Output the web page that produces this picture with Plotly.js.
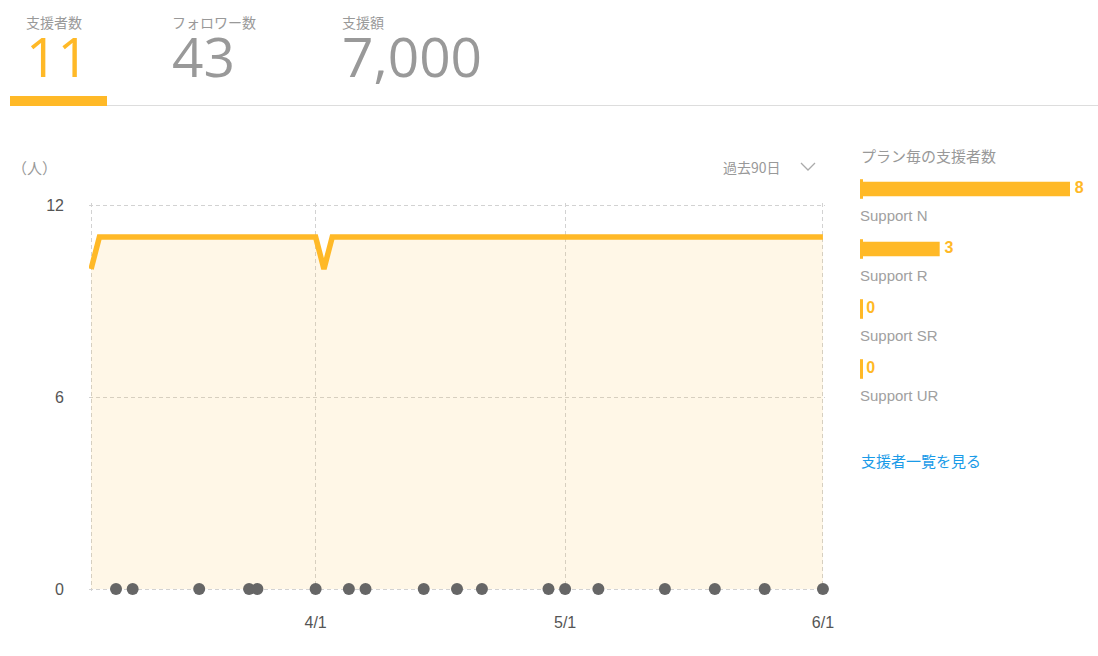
<!DOCTYPE html>
<html>
<head>
<meta charset="utf-8">
<script src="https://cdn.plot.ly/plotly-3.0.1.min.js"></script>
<style>html,body{margin:0;padding:0;background:#fff;}#chart{width:1098px;height:656px;}</style>
</head>
<body>
<div id="chart"></div>
<script>
// ---- data ----
const kpiLabels = ['支援者数', 'フォロワー数', '支援額'];
const kpiValues = ['11', '43', '7,000'];

const lineDates = ['2024-03-05', '2024-03-06', '2024-04-01', '2024-04-02', '2024-04-03', '2024-06-01'];
const lineValues = [10, 11, 11, 10, 11, 11];

const supportDates = ['2024-03-08', '2024-03-10', '2024-03-18', '2024-03-24', '2024-03-25', '2024-04-01',
  '2024-04-05', '2024-04-07', '2024-04-14', '2024-04-18', '2024-04-21', '2024-04-29', '2024-05-01',
  '2024-05-05', '2024-05-13', '2024-05-19', '2024-05-25', '2024-06-01'];
const supportLevels = supportDates.map(() => 0);

const xRange = ['2024-03-04 18:00', '2024-06-01 06:00'];
const xTickVals = ['2024-03-05', '2024-04-01', '2024-05-01', '2024-06-01'];
const xTickText = ['', '4/1', '5/1', '6/1'];
const yRange = [-0.0625, 12.0625];
const yTickVals = [0, 6, 12];

const planNames = ['Support N', 'Support R', 'Support SR', 'Support UR'];
const planCounts = [8, 3, 0, 0];

// ---- styles ----
const W = 1098, H = 656;
const ORANGE = '#FFB927';
const GRAY = '#999999';
const JP = '"Noto Sans CJK JP", sans-serif';
const AR = '"Liberation Sans", Arial, sans-serif';
const px = v => v / W;
const py = v => 1 - v / H;

const traces = [
  {
    x: lineDates, y: lineValues, type: 'scatter', mode: 'lines',
    line: {color: ORANGE, width: 5.5, shape: 'linear'},
    fill: 'tozeroy', fillcolor: 'rgba(251,185,40,0.11)',
    xaxis: 'x', yaxis: 'y', hoverinfo: 'skip'
  },
  {
    x: supportDates, y: supportLevels, type: 'scatter', mode: 'markers',
    marker: {color: '#666666', size: 12},
    cliponaxis: false, xaxis: 'x', yaxis: 'y', hoverinfo: 'skip'
  },
  {
    x: planCounts, y: planNames, type: 'bar', orientation: 'h',
    marker: {color: ORANGE}, width: 0.24,
    xaxis: 'x2', yaxis: 'y2', hoverinfo: 'skip'
  },
  {
    x: planCounts.map(() => 0), y: planNames, type: 'scatter', mode: 'markers',
    marker: {symbol: 'line-ns', size: 14, color: ORANGE, line: {color: ORANGE, width: 3}},
    cliponaxis: false, xaxis: 'x2', yaxis: 'y2', hoverinfo: 'skip'
  },
  {
    x: planCounts, y: planNames, type: 'scatter', mode: 'markers+text',
    marker: {size: 6, opacity: 0, color: ORANGE},
    text: planCounts.map(String), textposition: 'middle right',
    textfont: {family: AR, size: 16, color: ORANGE, weight: 'bold'},
    cliponaxis: false, xaxis: 'x2', yaxis: 'y2', hoverinfo: 'skip'
  }
];

const annotations = [];
const kpiX = [24, 170, 340];
kpiLabels.forEach((t, i) => {
  const numColor = i === 0 ? ORANGE : '#999999';
  annotations.push({
    xref: 'paper', yref: 'paper', x: px(kpiX[i]), y: py(10), xanchor: 'left', yanchor: 'top', align: 'left',
    showarrow: false,
    text: `<span style="font-size:14px;color:${GRAY}">${t}</span><br>` +
          `<span style="font-size:55px;font-family:'Open Sans',sans-serif;color:${numColor}">${kpiValues[i]}</span>`,
    font: {family: JP, size: 38, color: GRAY}
  });
});
annotations.push({xref: 'paper', yref: 'paper', x: px(10), y: py(167), text: '（人）', showarrow: false,
  xanchor: 'left', yanchor: 'middle', font: {family: JP, size: 15, color: GRAY}});
annotations.push({xref: 'paper', yref: 'paper', x: px(783), y: py(167), text: '過去90日', showarrow: false,
  xanchor: 'right', yanchor: 'middle', font: {family: JP, size: 14, color: GRAY}});
annotations.push({xref: 'paper', yref: 'paper', x: px(859), y: py(155), text: 'プラン毎の支援者数', showarrow: false,
  xanchor: 'left', yanchor: 'middle', font: {family: JP, size: 15, color: GRAY}});
planNames.forEach(n => {
  annotations.push({xref: 'paper', yref: 'y2', x: px(858), y: n, yshift: -26, text: n, showarrow: false,
    xanchor: 'left', yanchor: 'middle', font: {family: AR, size: 15, color: '#A0A0A0'}});
});
annotations.push({xref: 'paper', yref: 'paper', x: px(859), y: py(460), text: '支援者一覧を見る', showarrow: false,
  xanchor: 'left', yanchor: 'middle', font: {family: JP, size: 15, color: '#1A9BE8'}});

const shapes = [
  {type: 'line', xref: 'paper', yref: 'paper', x0: px(10), x1: 1, y0: py(105.5), y1: py(105.5),
    line: {color: '#DDDDDD', width: 1}},
  {type: 'rect', xref: 'paper', yref: 'paper', x0: px(10), x1: px(107), y0: py(106), y1: py(96),
    fillcolor: ORANGE, line: {width: 0}},
  {type: 'path', xref: 'paper', yref: 'paper',
    path: `M ${px(801)} ${py(163)} L ${px(808)} ${py(170)} L ${px(815)} ${py(163)}`,
    line: {color: '#AAAAAA', width: 1.3}}
];

const gridStyle = {showgrid: true, gridcolor: '#D2D2D2', gridwidth: 1, griddash: '4px,3px', zeroline: false, showline: false};

const layout = {
  width: W, height: H,
  margin: {l: 0, r: 0, t: 0, b: 0},
  paper_bgcolor: '#ffffff', plot_bgcolor: 'rgba(0,0,0,0)',
  showlegend: false, hovermode: false,
  xaxis: Object.assign({}, gridStyle, {
    type: 'date', domain: [px(89), px(825)], range: xRange,
    tickmode: 'array', tickvals: xTickVals, ticktext: xTickText, ticks: '',
    ticklabelstandoff: 20, tickfont: {family: AR, size: 16, color: '#555555'}, anchor: 'y'
  }),
  yaxis: Object.assign({}, gridStyle, {
    domain: [py(591), py(203)], range: yRange, tickmode: 'array', tickvals: yTickVals, ticks: '',
    ticklabelstandoff: 24, tickfont: {family: AR, size: 16, color: '#555555'}, anchor: 'x'
  }),
  xaxis2: {domain: [px(861.5), px(1070)], range: [0, Math.max(...planCounts)], visible: false,
    anchor: 'y2', showgrid: false, zeroline: false},
  yaxis2: {domain: [py(399), py(159)], type: 'category', range: [planNames.length - 0.5, -0.5],
    visible: false, anchor: 'x2', showgrid: false, zeroline: false},
  annotations: annotations,
  shapes: shapes
};

Plotly.newPlot('chart', traces, layout, {displayModeBar: false, staticPlot: true});
</script>
</body>
</html>
